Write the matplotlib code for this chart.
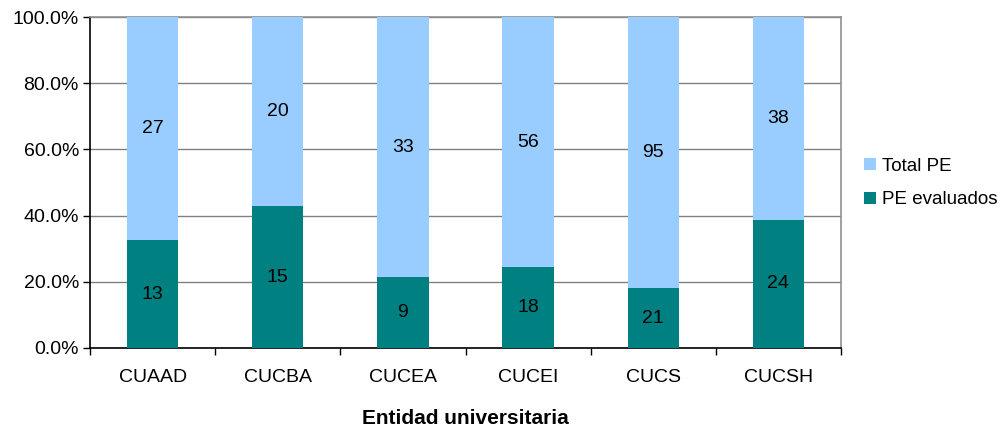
import matplotlib
matplotlib.use("Agg")
import matplotlib.pyplot as plt
import numpy as np

categories = ["CUAAD", "CUCBA", "CUCEA", "CUCEI", "CUCS", "CUCSH"]
pe_evaluados = [13, 15, 9, 18, 21, 24]
total_pe = [27, 20, 33, 56, 95, 38]
yticks = [0, 20, 40, 60, 80, 100]

plt.rcParams['font.family'] = ['Liberation Sans', 'DejaVu Sans']
FS = 14

fig = plt.figure(figsize=(10.02, 4.32), dpi=100)
ax = fig.add_axes([90/1002, 1-348/432, (841-90)/1002, (348-17)/432])

ev = np.array(pe_evaluados, float)
tot = np.array(total_pe, float)
s = ev + tot
p_ev = ev / s * 100
p_tot = tot / s * 100
x = np.arange(len(categories))
w = 0.41
c_dark = "#008080"
c_light = "#99CCFF"

ax.bar(x, p_ev, w, color=c_dark, label="PE evaluados", zorder=3)
ax.bar(x, p_tot, w, bottom=p_ev, color=c_light, label="Total PE", zorder=3)
for i in range(len(x)):
    ax.text(x[i], p_ev[i]/2, str(pe_evaluados[i]), ha="center", va="center", fontsize=FS, zorder=4)
    ax.text(x[i], p_ev[i] + p_tot[i]/2, str(total_pe[i]), ha="center", va="center", fontsize=FS, zorder=4)

ax.set_xlim(-0.5, len(x) - 0.5)
ax.set_ylim(0, 100)
ax.set_yticks(yticks)
ax.set_yticklabels([f"{v:.1f}%" for v in yticks], fontsize=FS)
ax.yaxis.grid(True, color="#808080", linewidth=1, zorder=0)
ax.set_xticks(x)
ax.set_xticklabels(categories, fontsize=FS)
ax.tick_params(axis="x", length=0, pad=15)
ax.set_xticks(np.arange(-0.5, len(x)), minor=True)
ax.tick_params(axis="x", which="minor", length=5, width=1, color="black", direction="out")
ax.tick_params(axis="y", length=5, width=1, color="black", direction="out", pad=3)
for side in ["left", "bottom"]:
    ax.spines[side].set_color("black")
    ax.spines[side].set_linewidth(1.2)
for side in ["top", "right"]:
    ax.spines[side].set_color("#909090")
    ax.spines[side].set_linewidth(1.2)
ax.set_xlabel("Entidad universitaria", fontsize=15, fontweight="bold", labelpad=17)

handles, labels = ax.get_legend_handles_labels()
leg = fig.legend(handles[::-1], labels[::-1], loc="center left", bbox_to_anchor=(864/1002, 1-183/432),
                 frameon=False, fontsize=13.5, handlelength=0.65, handleheight=0.65,
                 handletextpad=0.3, labelspacing=0.9, borderaxespad=0, borderpad=0)

fig.savefig("out.png", dpi=100)
